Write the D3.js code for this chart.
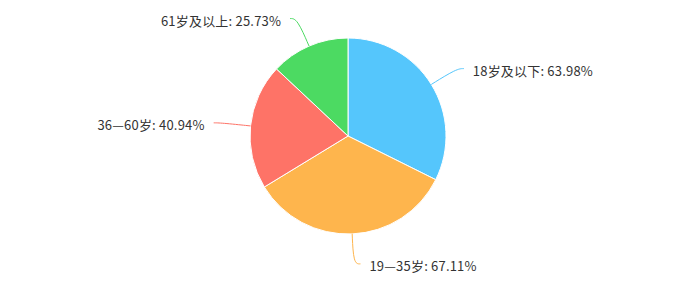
<!DOCTYPE html>
<html>
<head>
<meta charset="utf-8">
<script src="https://cdn.jsdelivr.net/npm/d3@7"></script>
<style>
  body { margin: 0; background: #fff; }
  svg { display: block; }
</style>
</head>
<body>
<div id="chart"></div>
<script>
var width = 682, height = 287;

// data
var categories = ["18岁及以下", "19—35岁", "36—60岁", "61岁及以上"];
var values = [63.98, 67.11, 40.94, 25.73];
var colors = ["#55c6fc", "#feb54d", "#fe7367", "#4cda62"];

var cx = 348, cy = 136, radius = 98;
var len1 = 30, len2 = 7;

var svg = d3.select("#chart").append("svg")
  .attr("width", width)
  .attr("height", height);

var pie = d3.pie().sort(null).value(function (d) { return d; });
var arcs = pie(values);

var arc = d3.arc().innerRadius(0).outerRadius(radius);

var g = svg.append("g").attr("transform", "translate(" + cx + "," + cy + ")");

g.selectAll("path.slice")
  .data(arcs)
  .enter()
  .append("path")
    .attr("class", "slice")
    .attr("d", arc)
    .attr("fill", function (d, i) { return colors[i]; })
    .attr("stroke", "#fff")
    .attr("stroke-width", 1);

// label lines
var line = d3.line().curve(d3.curveBasis);

function pts(d) {
  var a = (d.startAngle + d.endAngle) / 2;
  var sx = Math.sin(a), sy = -Math.cos(a);
  var p0 = [sx * radius, sy * radius];
  var p1 = [sx * (radius + len1), sy * (radius + len1)];
  var dir = sx >= 0 ? 1 : -1;
  var p2 = [p1[0] + dir * len2, p1[1]];
  return [p0, p1, p2, dir];
}

g.selectAll("path.leader")
  .data(arcs)
  .enter()
  .append("path")
    .attr("class", "leader")
    .attr("d", function (d) { var p = pts(d); return line([p[0], p[1], p[2]]); })
    .attr("fill", "none")
    .attr("stroke", function (d, i) { return colors[i]; })
    .attr("stroke-width", 1);

g.selectAll("text.label")
  .data(arcs)
  .enter()
  .append("text")
    .attr("class", "label")
    .attr("x", function (d) { var p = pts(d); return p[2][0] + p[3] * 9; })
    .attr("y", function (d) { var p = pts(d); return p[2][1] + 3; })
    .attr("dy", "0.35em")
    .attr("text-anchor", function (d) { return pts(d)[3] > 0 ? "start" : "end"; })
    .style("font-family", "'Noto Sans CJK SC', 'Microsoft YaHei', sans-serif")
    .style("font-size", "13px")
    .style("letter-spacing", "0.2px")
    .attr("fill", "#333")
    .text(function (d, i) { return categories[i] + ": " + d3.format(".2f")(values[i]) + "%"; });
</script>
</body>
</html>
